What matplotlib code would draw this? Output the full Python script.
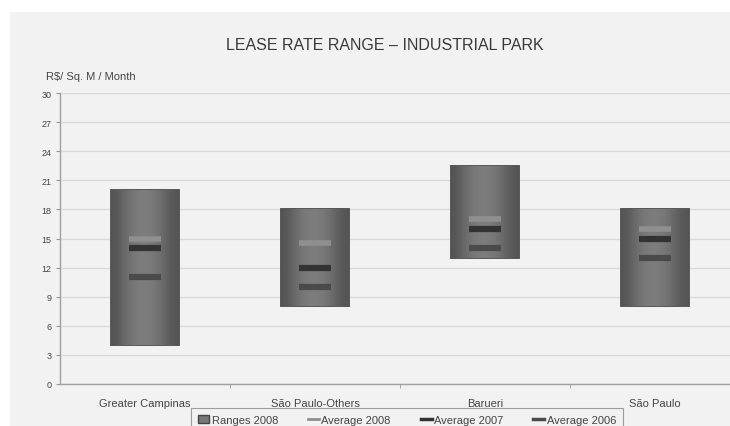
import numpy as np
import matplotlib
matplotlib.use("Agg")
import matplotlib.pyplot as plt
from matplotlib.lines import Line2D
from matplotlib.patches import Patch

# valeurs (R$/m²/mois)
regions = ["Greater Campinas", "São Paulo-Others", "Barueri", "São Paulo"]
range_low = [4, 8, 13, 8]
range_high = [20, 18, 22.5, 18]
avg_2008 = [15, 14.5, 17, 16]
avg_2007 = [14, 12, 16, 15]
avg_2006 = [11, 10, 14, 13]
y_ticks = [0, 3, 6, 9, 12, 15, 18, 21, 24, 27, 30]

plt.rcParams["font.family"] = ["Liberation Sans", "DejaVu Sans"]

bg = "#f2f2f2"
text_col = "#444444"

fig = plt.figure(figsize=(7.3, 4.27), dpi=100)
fig.patch.set_facecolor("white")
# panneau gris de fond
fig.patches.append(plt.Rectangle((10 / 730, 0), 1, 1 - 13 / 427, transform=fig.transFigure,
                                 facecolor=bg, edgecolor="none", zorder=-5))

ax = fig.add_axes([60 / 730, 42 / 427, 680 / 730, 291 / 427])
ax.patch.set_alpha(0)

x = np.arange(len(regions))
bar_w = 0.4
mark_w = 0.19

# barres des plages avec un léger dégradé horizontal
grad = np.array([[0.33, 0.42, 0.48, 0.49, 0.47, 0.40, 0.33]])
for xi, lo, hi in zip(x, range_low, range_high):
    bar = ax.bar(xi, hi - lo, bottom=lo, width=bar_w, color="#777777",
                 edgecolor="#4a4a4a", linewidth=1.3, zorder=2)[0]
    im = ax.imshow(grad, cmap="gray", vmin=0, vmax=1, aspect="auto",
                   extent=(xi - bar_w / 2, xi + bar_w / 2, lo, hi), zorder=2.5,
                   interpolation="bicubic")
    im.set_clip_path(bar)

ax.hlines(avg_2008, x - mark_w / 2, x + mark_w / 2, color="#8f8f8f", linewidth=4, zorder=3)
ax.hlines(avg_2007, x - mark_w / 2, x + mark_w / 2, color="#333333", linewidth=4.5, zorder=3)
ax.hlines(avg_2006, x - mark_w / 2, x + mark_w / 2, color="#4a4a4a", linewidth=4.5, zorder=3)

ax.set_xlim(-0.5, len(regions) - 0.5)
ax.set_ylim(0, 30)
ax.set_yticks(y_ticks)
ax.set_yticklabels([str(v) for v in y_ticks], fontsize=6.5, color=text_col)
ax.set_xticks(x)
ax.set_xticklabels(regions, fontsize=8, color=text_col)
ax.set_xticks(x[:-1] + 0.5, minor=True)
ax.tick_params(axis="x", which="major", length=0, pad=10)
ax.tick_params(axis="x", which="minor", length=3, color="#999999")
ax.tick_params(axis="y", length=3, color="#999999", pad=3)
ax.set_axisbelow(True)
ax.grid(axis="y", color="#dadada", linewidth=1.0)

for s in ["top", "right"]:
    ax.spines[s].set_visible(False)
for s in ["left", "bottom"]:
    ax.spines[s].set_color("#a0a0a0")
    ax.spines[s].set_linewidth(1.0)

fig.text(385 / 730, 1 - 45 / 427, "LEASE RATE RANGE – INDUSTRIAL PARK", ha="center", va="center",
         fontsize=11.5, color="#3a3a3a")
fig.text(46 / 730, 1 - 77 / 427, "R$/ Sq. M / Month", ha="left", va="center",
         fontsize=8, color=text_col)

handles = [Patch(facecolor="#777777", edgecolor="#444444", label="Ranges 2008"),
           Line2D([], [], color="#8f8f8f", linewidth=2, label="Average 2008"),
           Line2D([], [], color="#333333", linewidth=2.5, label="Average 2007"),
           Line2D([], [], color="#4a4a4a", linewidth=2.5, label="Average 2006")]
leg = fig.legend(handles=handles, loc="upper left", bbox_to_anchor=(191 / 730, 1 - 409 / 427),
                 borderaxespad=0, ncol=4, fontsize=8, frameon=True, fancybox=False,
                 handlelength=1.0, handletextpad=0.2, columnspacing=2.7, borderpad=0.65,
                 labelcolor=text_col)
leg.get_frame().set_edgecolor("#888888")
leg.get_frame().set_facecolor(bg)
leg.get_frame().set_linewidth(0.8)

fig.savefig("out.png", dpi=100, facecolor=fig.get_facecolor())
